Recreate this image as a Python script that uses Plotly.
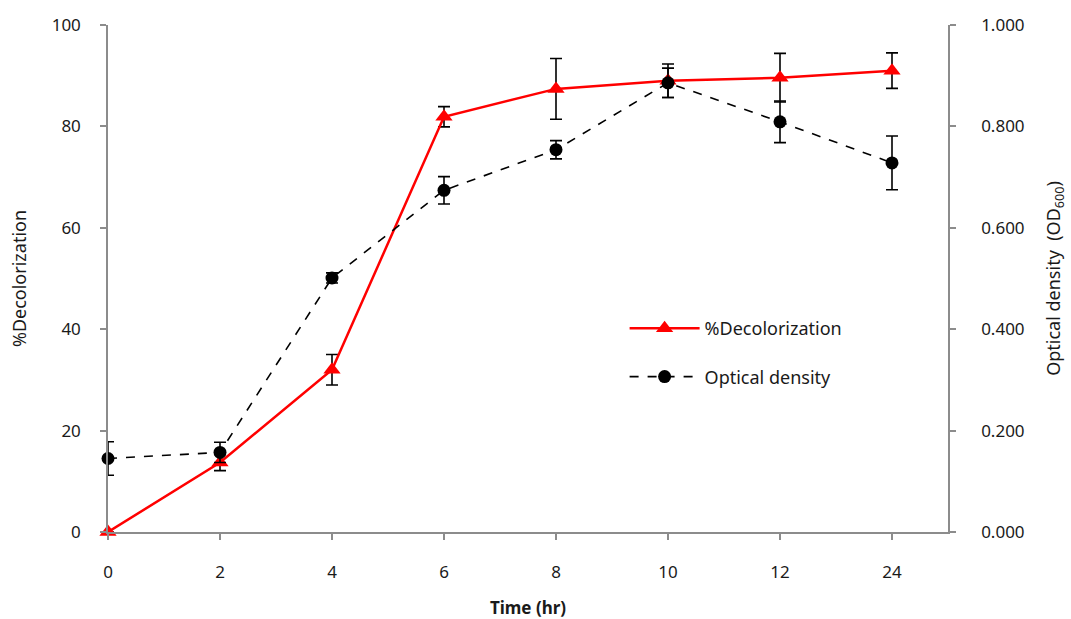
import plotly.graph_objects as go

time_labels = ["0", "2", "4", "6", "8", "10", "12", "24"]
decolorization = [0.0, 13.7, 32.0, 81.9, 87.4, 89.0, 89.6, 91.0]
decolorization_err = [0.0, 1.6, 3.0, 2.0, 6.0, 3.3, 4.8, 3.5]
optical_density = [0.145, 0.157, 0.501, 0.674, 0.754, 0.886, 0.809, 0.728]
optical_density_err = [0.033, 0.02, 0.01, 0.027, 0.018, 0.029, 0.041, 0.053]

font_family = "Noto Sans"

fig = go.Figure()
fig.add_trace(go.Scatter(
    x=time_labels, y=decolorization, name="%Decolorization",
    mode="lines+markers", legendgroup="a",
    line=dict(color="#ff0000", width=2.5),
    marker=dict(symbol="triangle-up", size=15, color="#ff0000"),
    error_y=dict(type="data", array=decolorization_err, visible=True,
                 color="black", thickness=1.6, width=6),
    cliponaxis=False, yaxis="y",
))
fig.add_trace(go.Scatter(
    x=time_labels, y=optical_density, name="Optical density",
    mode="lines+markers", legendgroup="b",
    line=dict(color="black", width=1.6, dash="dash"),
    marker=dict(symbol="circle", size=13, color="black"),
    error_y=dict(type="data", array=optical_density_err, visible=True,
                 color="black", thickness=1.6, width=6),
    cliponaxis=False, yaxis="y2",
))

def axis_common(standoff):
    return dict(showgrid=False, zeroline=False, showline=True,
                linecolor="#8c8c8c", linewidth=1.5, ticks="outside",
                tickcolor="#8c8c8c", ticklen=6, tickwidth=1.5,
                ticklabelstandoff=standoff, automargin=False,
                tickfont=dict(family=font_family, size=17, color="#1a1a1a"))

fig.update_layout(
    width=1071, height=619,
    margin=dict(l=108, r=123, t=25, b=87),
    paper_bgcolor="white", plot_bgcolor="white",
    font=dict(family=font_family, color="#1a1a1a"),
    showlegend=True,
    legend=dict(x=0.615, y=0.354, xanchor="left", yanchor="middle",
                font=dict(family=font_family, size=18, color="#1a1a1a"),
                bgcolor="rgba(0,0,0,0)", itemwidth=70, tracegroupgap=22),
    xaxis=dict(type="category", categoryorder="array", categoryarray=time_labels,
               range=[0, 7.5],
               title=dict(text="<b>Time (hr)</b>", font=dict(family=font_family, size=17, color="#1a1a1a"), standoff=20),
               **axis_common(18)),
    yaxis=dict(range=[0, 100], tickvals=[0, 20, 40, 60, 80, 100],
               title=dict(text="%Decolorization", font=dict(family=font_family, size=18, color="#1a1a1a"), standoff=20),
               **axis_common(16)),
    yaxis2=dict(range=[0, 1], overlaying="y", side="right",
                tickvals=[0, 0.2, 0.4, 0.6, 0.8, 1.0], tickformat=".3f",
                title=dict(text="Optical density  (OD<sub>600</sub>)", font=dict(family=font_family, size=18, color="#1a1a1a"), standoff=24),
                **axis_common(22)),
)

fig.write_html("out.html")
